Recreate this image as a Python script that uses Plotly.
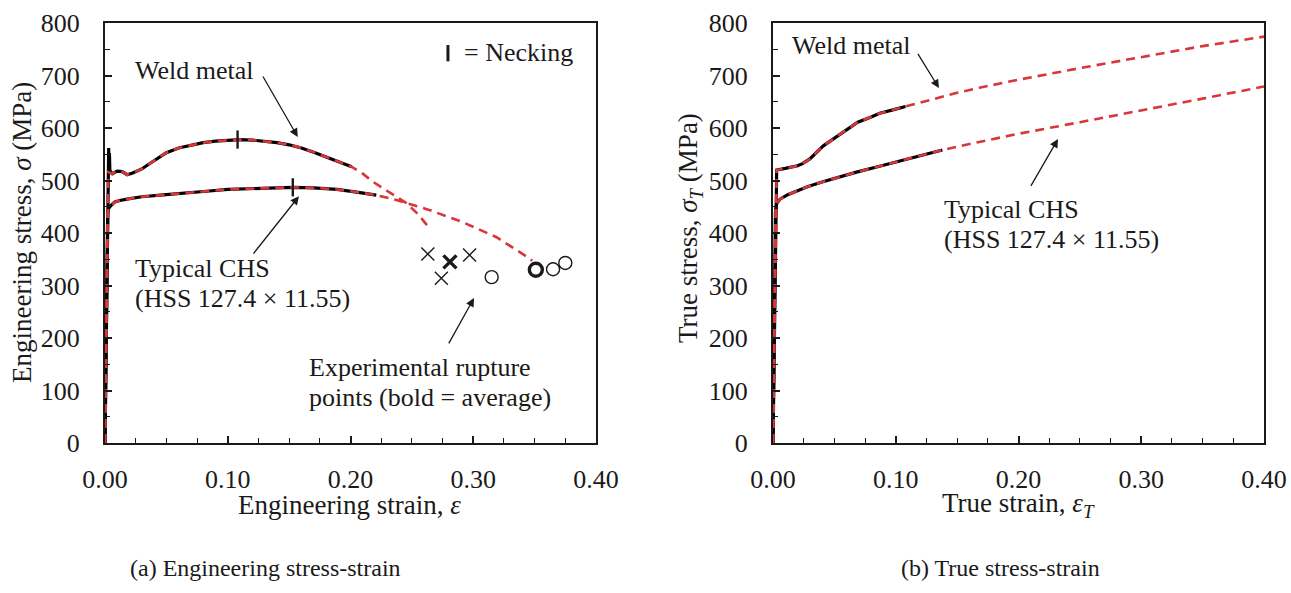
import plotly.graph_objects as go

# ---------------- data ----------------
# (a) engineering stress-strain, weld metal coupon (measured)
weld_eng_test_strain = [0, 0.0027, 0.0030, 0.0033, 0.0036, 0.0040, 0.006, 0.010, 0.014, 0.018, 0.022,
                        0.026, 0.030, 0.035, 0.040, 0.045, 0.050, 0.060, 0.070, 0.080, 0.090, 0.100,
                        0.110, 0.120, 0.130, 0.140, 0.150, 0.160, 0.170, 0.180, 0.190, 0.201]
weld_eng_test_stress = [0, 530, 562, 528, 552, 518, 513, 518, 517, 511, 514,
                        518, 522, 530, 538, 546, 553, 562, 567, 572, 575, 577,
                        578, 577, 575, 572, 568, 562, 554, 545, 536, 526]
# weld metal, calibrated material model (continues past the measured range)
weld_eng_model_strain = [0, 0.0026, 0.006, 0.010, 0.014, 0.018, 0.022, 0.026, 0.030, 0.035, 0.040,
                         0.045, 0.050, 0.060, 0.070, 0.080, 0.090, 0.100, 0.110, 0.120, 0.130,
                         0.140, 0.150, 0.160, 0.170, 0.180, 0.190, 0.201, 0.210, 0.218, 0.230,
                         0.2455, 0.255, 0.264]
weld_eng_model_stress = [0, 516, 513, 518, 517, 511, 514, 518, 522, 530, 538,
                         546, 553, 562, 567, 572, 575, 577, 578, 577, 575,
                         572, 568, 562, 554, 545, 536, 526, 513, 498, 480,
                         457, 436, 410]

# typical CHS coupon (HSS 127.4 x 11.55)
chs_eng_test_strain = [0, 0.0022, 0.003, 0.005, 0.008, 0.012, 0.019, 0.030, 0.045, 0.057, 0.069,
                       0.085, 0.100, 0.120, 0.153, 0.170, 0.189, 0.205, 0.221]
chs_eng_test_stress = [0, 440, 447, 453, 459, 462, 465, 469, 472, 474, 477,
                       480, 483, 485, 487, 486, 483, 478, 472]
chs_eng_model_strain = chs_eng_test_strain + [0.2374, 0.264, 0.291, 0.319, 0.3455, 0.348]
chs_eng_model_stress = chs_eng_test_stress + [463, 444, 421, 392, 352, 347]

# onset of necking
neck_strain = [0.108, 0.153]
neck_stress = [578, 487]

# experimental rupture points
weld_rupture_strain = [0.263, 0.274, 0.297]
weld_rupture_stress = [360, 314, 358]
weld_rupture_avg_strain = [0.281]
weld_rupture_avg_stress = [345]
chs_rupture_strain = [0.315, 0.365, 0.375]
chs_rupture_stress = [316, 331, 343]
chs_rupture_avg_strain = [0.351]
chs_rupture_avg_stress = [330]

# (b) true stress-strain
weld_true_test_strain = [0, 0.0025, 0.003, 0.010, 0.020, 0.024, 0.030, 0.041, 0.050, 0.060, 0.069,
                         0.080, 0.087, 0.100, 0.108]
weld_true_test_stress = [0, 515, 520, 523, 528, 532, 541, 566, 581, 597, 611,
                         621, 628, 636, 641]
weld_true_model_strain = weld_true_test_strain + [0.130, 0.150, 0.169, 0.200, 0.250, 0.285, 0.300, 0.350, 0.400]
weld_true_model_stress = weld_true_test_stress + [655, 667, 677, 692, 714, 729, 736, 756, 774]

chs_true_test_strain = [0, 0.002, 0.003, 0.006, 0.012, 0.020, 0.028, 0.040, 0.055, 0.068, 0.090,
                        0.109, 0.138]
chs_true_test_stress = [0, 440, 456, 465, 473, 481, 488, 497, 507, 516, 529,
                        541, 558]
chs_true_model_strain = chs_true_test_strain + [0.169, 0.200, 0.250, 0.291, 0.350, 0.400]
chs_true_model_stress = chs_true_test_stress + [574, 589, 611, 629, 656, 679]

strain_ticks = [0, 0.1, 0.2, 0.3, 0.4]
stress_ticks = [0, 100, 200, 300, 400, 500, 600, 700, 800]

# ---------------- styling ----------------
W, H = 1291, 593
FONT = "Liberation Serif, Times New Roman, serif"
INK = "#1a1a1a"
RED = "#d8363c"
TEST_LINE = dict(color="black", width=3.2)
MODEL_LINE = dict(color=RED, width=2.6, dash="9px,6px")


def px_x(p):
    return p / W


def px_y(p):
    return 1 - p / H


fig = go.Figure()


def add_curve(xs, ys, line, xa, ya):
    fig.add_trace(go.Scatter(x=xs, y=ys, mode="lines", line=line,
                             xaxis=xa, yaxis=ya, showlegend=False, hoverinfo="skip"))


def add_points(xs, ys, symbol, width, xa="x", ya="y", size=13):
    fig.add_trace(go.Scatter(x=xs, y=ys, mode="markers",
                             marker=dict(symbol=symbol, size=size, color=INK,
                                         line=dict(color=INK, width=width)),
                             xaxis=xa, yaxis=ya, showlegend=False, hoverinfo="skip"))


# (a) engineering
add_curve(weld_eng_test_strain, weld_eng_test_stress, TEST_LINE, "x", "y")
add_curve(chs_eng_test_strain, chs_eng_test_stress, TEST_LINE, "x", "y")
add_curve(weld_eng_model_strain, weld_eng_model_stress, MODEL_LINE, "x", "y")
add_curve(chs_eng_model_strain, chs_eng_model_stress, MODEL_LINE, "x", "y")
fig.add_trace(go.Scatter(x=neck_strain, y=neck_stress, mode="markers",
                         marker=dict(symbol="line-ns", size=13, color=INK,
                                     line=dict(color=INK, width=2.4)),
                         xaxis="x", yaxis="y", showlegend=False, hoverinfo="skip"))
add_points(weld_rupture_strain, weld_rupture_stress, "x-thin", 1.4)
add_points(weld_rupture_avg_strain, weld_rupture_avg_stress, "x-thin", 3.4)
add_points(chs_rupture_strain, chs_rupture_stress, "circle-open", 1.4)
add_points(chs_rupture_avg_strain, chs_rupture_avg_stress, "circle-open", 3.4)

# (b) true
add_curve(weld_true_test_strain, weld_true_test_stress, TEST_LINE, "x2", "y2")
add_curve(chs_true_test_strain, chs_true_test_stress, TEST_LINE, "x2", "y2")
add_curve(weld_true_model_strain, weld_true_model_stress, MODEL_LINE, "x2", "y2")
add_curve(chs_true_model_strain, chs_true_model_stress, MODEL_LINE, "x2", "y2")

tickfont = dict(family=FONT, size=26, color=INK)


def x_axis(domain, anchor):
    return dict(domain=domain, anchor=anchor, range=[0, 0.4], tickvals=strain_ticks,
                tickformat=".2f", ticks="inside", ticklen=7, tickwidth=1.5, tickcolor=INK,
                showline=True, linecolor=INK, linewidth=2, mirror=True, automargin=False,
                showgrid=False, zeroline=False, tickfont=tickfont, ticklabelstandoff=12,
                minor=dict(tickmode="linear", tick0=0, dtick=0.025, ticks="inside",
                           ticklen=5, tickwidth=1.3, tickcolor=INK, showgrid=False),
                fixedrange=True)


def y_axis(domain, anchor):
    return dict(domain=domain, anchor=anchor, range=[0, 800], tickvals=stress_ticks,
                ticks="inside", ticklen=7, tickwidth=1.5, tickcolor=INK,
                showline=True, linecolor=INK, linewidth=2, mirror=True, automargin=False,
                showgrid=False, zeroline=False, tickfont=tickfont, ticklabelstandoff=18,
                minor=dict(tickmode="linear", tick0=0, dtick=50, ticks="inside",
                           ticklen=5, tickwidth=1.3, tickcolor=INK, showgrid=False),
                fixedrange=True)


ydom = [px_y(443), px_y(23)]
fig.update_layout(
    width=W, height=H,
    margin=dict(l=0, r=0, t=0, b=0, autoexpand=False),
    paper_bgcolor="white", plot_bgcolor="white",
    showlegend=False,
    xaxis=x_axis([px_x(105), px_x(596)], "y"),
    yaxis=y_axis(ydom, "x"),
    xaxis2=x_axis([px_x(773), px_x(1264)], "y2"),
    yaxis2=y_axis(ydom, "x2"),
)

annotations = []


def label(text, x, y, xref, yref, xanchor="left", size=26, angle=0):
    annotations.append(dict(text=text, x=x, y=y, xref=xref, yref=yref, xanchor=xanchor,
                            yanchor="middle", showarrow=False, textangle=angle,
                            font=dict(family=FONT, size=size, color=INK)))


def arrow(x_head, y_head, x_tail, y_tail, xref, yref):
    annotations.append(dict(text="", x=x_head, y=y_head, ax=x_tail, ay=y_tail,
                            xref=xref, yref=yref, axref=xref, ayref=yref,
                            showarrow=True, arrowhead=2, arrowsize=1.3, arrowwidth=1.3,
                            arrowcolor=INK, standoff=0, startstandoff=0))


# panel (a) notes
label("Weld metal", 0.0228, 710, "x", "y")
arrow(0.157, 583, 0.128, 701, "x", "y")
label("= Necking", 0.291, 743, "x", "y")
label("Typical CHS", 0.0228, 332, "x", "y")
label("(HSS 127.4 × 11.55)", 0.0228, 276, "x", "y")
arrow(0.158, 470, 0.120, 358, "x", "y")
label("Experimental rupture", 0.1646, 143, "x", "y")
label("points (bold = average)", 0.1646, 86, "x", "y")
arrow(0.3006, 276, 0.2794, 187, "x", "y")

# panel (b) notes
label("Weld metal", 0.0138, 758, "x2", "y2")
arrow(0.1352, 676, 0.1173, 744, "x2", "y2")
label("Typical CHS", 0.1377, 445, "x2", "y2")
label("(HSS 127.4 × 11.55)", 0.1377, 387, "x2", "y2")
arrow(0.2322, 579, 0.2094, 487, "x2", "y2")

# axis titles
label("Engineering strain, <i>ε</i>", px_x(350), px_y(505), "paper", "paper",
      xanchor="center", size=27)
label("True strain, <i>ε</i><sub><i>T</i></sub>", px_x(1018), px_y(505), "paper", "paper",
      xanchor="center", size=27)
label("Engineering stress, <i>σ</i> (MPa)", px_x(22), px_y(233), "paper", "paper",
      xanchor="center", size=27, angle=-90)
label("True stress, <i>σ</i><sub><i>T</i></sub> (MPa)", px_x(690), px_y(228), "paper", "paper",
      xanchor="center", size=27, angle=-90)

# panel captions
label("(a) Engineering stress-strain", px_x(265), px_y(568), "paper", "paper", xanchor="center", size=24)
label("(b) True stress-strain", px_x(1000), px_y(568), "paper", "paper", xanchor="center", size=24)

fig.update_layout(annotations=annotations)

# necking key
fig.add_shape(type="line", xref="x", yref="y", x0=0.2794, x1=0.2794, y0=727, y1=758,
              line=dict(color=INK, width=3))

fig.write_html("out.html")
